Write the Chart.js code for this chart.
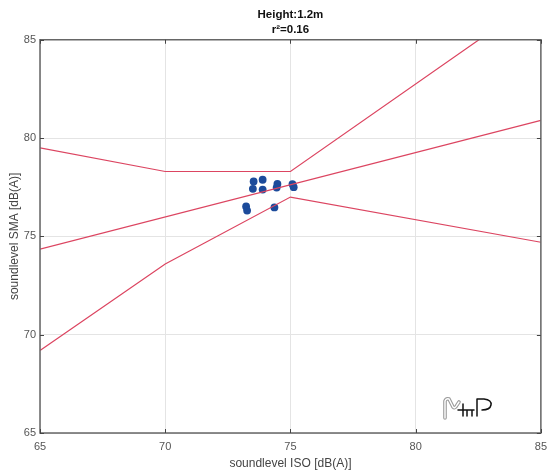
<!DOCTYPE html>
<html>
<head>
<meta charset="utf-8">
<script src="https://cdn.jsdelivr.net/npm/chart.js@4"></script>
<style>
  html, body { margin: 0; padding: 0; background: #fff; }
  #wrap { width: 547px; height: 474px; }
</style>
</head>
<body>
<div id="wrap"><canvas id="chart" width="547" height="474"></canvas></div>
<script>
// measured points
const isoLevels = [73.53, 73.89, 73.50, 73.89, 74.48, 74.45, 75.08, 75.13, 73.23, 73.27, 74.36];
const smaLevels = [77.79, 77.88, 77.42, 77.38, 77.67, 77.48, 77.66, 77.50, 76.52, 76.31, 76.47];

// regression line and bounds
const fitX = [65, 85];
const fitY = [74.35, 80.9];
const upperX = [65, 70, 75, 85];
const upperY = [79.5, 78.3, 78.3, 87.2];
const lowerX = [65, 70, 75, 85];
const lowerY = [69.2, 73.6, 77.0, 74.7];

const xTicks = [65, 70, 75, 80, 85];
const yTicks = [65, 70, 75, 80, 85];
const titleLines = ["Height:1.2m", "r\u00b2=0.16"];

const lineColor = "#dc4561";
const dotColor = "#1c4b9b";
const fontFam = "'Liberation Sans', Arial, sans-serif";

function toXY(xs, ys) {
  return xs.map((x, i) => ({ x: x, y: ys[i] }));
}

function lineSet(xs, ys) {
  return {
    data: toXY(xs, ys),
    showLine: true,
    borderColor: lineColor,
    borderWidth: 1.2,
    pointRadius: 0,
    fill: false,
    tension: 0,
  };
}

// box around the plot + inward ticks, like the original figure
const boxPlugin = {
  id: "box",
  afterDraw(chart) {
    const { ctx, chartArea: a, scales } = chart;
    ctx.save();
    ctx.strokeStyle = "#666";
    ctx.lineWidth = 1.5;
    ctx.strokeRect(a.left, a.top, a.right - a.left, a.bottom - a.top);
    ctx.lineWidth = 1;
    ctx.strokeStyle = "#444";
    xTicks.forEach((v) => {
      const px = Math.round(scales.x.getPixelForValue(v)) + 0.5;
      ctx.beginPath();
      ctx.moveTo(px, a.bottom); ctx.lineTo(px, a.bottom - 4);
      ctx.moveTo(px, a.top); ctx.lineTo(px, a.top + 4);
      ctx.stroke();
    });
    yTicks.forEach((v) => {
      const py = Math.round(scales.y.getPixelForValue(v)) + 0.5;
      ctx.beginPath();
      ctx.moveTo(a.left, py); ctx.lineTo(a.left + 4, py);
      ctx.moveTo(a.right, py); ctx.lineTo(a.right - 4, py);
      ctx.stroke();
    });
    ctx.restore();
  },
};

// little MtP logo in the lower right corner
const logoPlugin = {
  id: "logo",
  afterDraw(chart) {
    const ctx = chart.ctx;
    ctx.save();
    ctx.lineCap = "round";
    ctx.lineJoin = "round";
    const m = () => {
      ctx.beginPath();
      ctx.moveTo(445, 418);
      ctx.lineTo(445, 401);
      ctx.quadraticCurveTo(446, 398, 449, 399);
      ctx.lineTo(453, 407);
      ctx.quadraticCurveTo(455, 409, 457, 405);
      ctx.lineTo(459, 402);
      ctx.stroke();
    };
    ctx.strokeStyle = "#9a9a9a";
    ctx.lineWidth = 3.6;
    m();
    ctx.strokeStyle = "#fff";
    ctx.lineWidth = 1.4;
    m();
    ctx.strokeStyle = "#111";
    ctx.lineWidth = 1.5;
    ctx.beginPath();
    ctx.moveTo(458, 410);
    ctx.lineTo(474, 410);
    ctx.moveTo(463, 404);
    ctx.lineTo(463, 416);
    ctx.moveTo(467, 410);
    ctx.lineTo(467, 416);
    ctx.moveTo(472, 410);
    ctx.lineTo(472, 416);
    ctx.moveTo(477, 416);
    ctx.lineTo(477, 399);
    ctx.lineTo(484, 399);
    ctx.quadraticCurveTo(492, 400, 491, 405);
    ctx.quadraticCurveTo(490, 410, 482, 410);
    ctx.stroke();
    ctx.restore();
  },
};

new Chart(document.getElementById("chart"), {
  type: "scatter",
  data: {
    datasets: [
      lineSet(upperX, upperY),
      lineSet(fitX, fitY),
      lineSet(lowerX, lowerY),
      {
        data: toXY(isoLevels, smaLevels),
        pointRadius: 3.9,
        pointBackgroundColor: dotColor,
        pointBorderColor: dotColor,
        pointBorderWidth: 0,
        showLine: false,
      },
    ],
  },
  options: {
    responsive: false,
    animation: false,
    layout: { padding: { left: 0, right: 6, top: 0, bottom: 0 } },
    plugins: {
      legend: { display: false },
      tooltip: { enabled: false },
      title: {
        display: true,
        fullSize: false,
        text: titleLines,
        color: "#111",
        font: { family: fontFam, size: 11.5, weight: "bold", lineHeight: 1.25 },
        padding: { top: 8, bottom: 3 },
      },
    },
    scales: {
      x: {
        type: "linear",
        min: 65,
        max: 85,
        afterBuildTicks: (s) => { s.ticks = xTicks.map((v) => ({ value: v })); },
        afterFit: (s) => { s.height = 41; },
        ticks: {
          autoSkip: false,
          maxRotation: 0,
          padding: 0,
          color: "#555",
          font: { family: fontFam, size: 11 },
        },
        grid: {
          color: "#e4e4e4",
          lineWidth: 1,
          drawTicks: true,
          tickLength: 7,
          tickColor: "rgba(0,0,0,0)",
        },
        border: { display: false },
        title: {
          display: true,
          text: "soundlevel ISO [dB(A)]",
          color: "#444",
          font: { family: fontFam, size: 12 },
          padding: { top: 0, bottom: 3 },
        },
      },
      y: {
        type: "linear",
        min: 65,
        max: 85,
        afterBuildTicks: (s) => { s.ticks = yTicks.map((v) => ({ value: v })); },
        afterFit: (s) => { s.width = 40; },
        ticks: {
          autoSkip: false,
          padding: 4,
          color: "#555",
          font: { family: fontFam, size: 11 },
        },
        grid: { color: "#e4e4e4", lineWidth: 1, drawTicks: false },
        border: { display: false },
        title: {
          display: true,
          text: "soundlevel SMA [dB(A)]",
          color: "#444",
          font: { family: fontFam, size: 12 },
          padding: { top: 7, bottom: 0 },
        },
      },
    },
  },
  plugins: [boxPlugin, logoPlugin],
});
</script>
</body>
</html>
